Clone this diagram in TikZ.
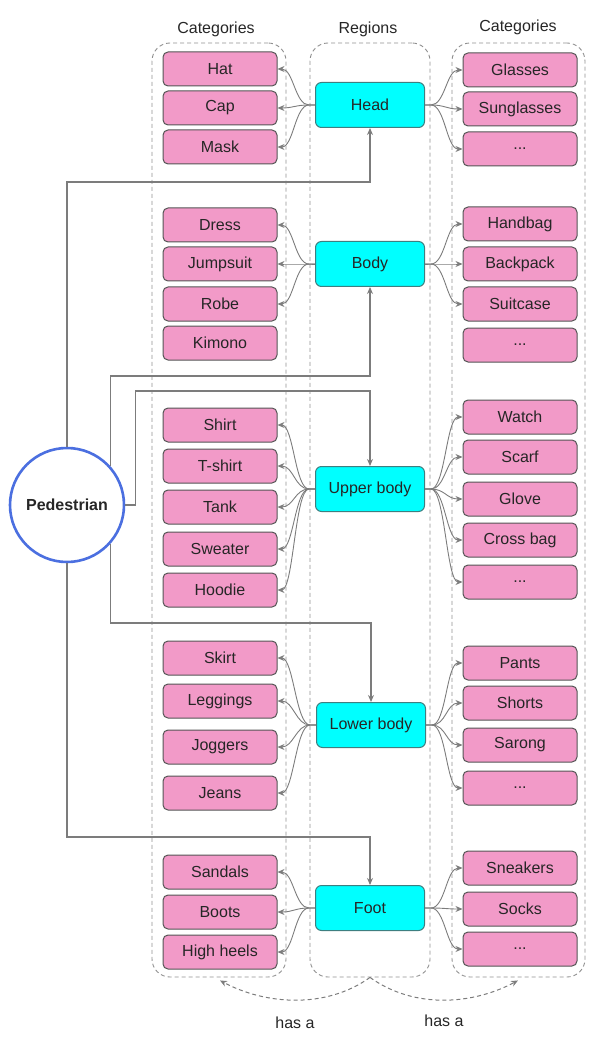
\documentclass[tikz,border=0pt]{standalone}
\usepackage{fontspec}
\setmainfont{Liberation Sans}
\usetikzlibrary{arrows.meta}
\definecolor{pinkfill}{HTML}{F29AC8}
\definecolor{regfill}{HTML}{00FFFF}
\definecolor{boxline}{HTML}{555555}
\definecolor{regline}{HTML}{3E7F80}
\definecolor{wire}{HTML}{7C7C7C}
\definecolor{ink}{HTML}{262626}
\definecolor{pedblue}{HTML}{4B6FE0}
\begin{document}
\begin{tikzpicture}[x=1pt,y=-1pt,
  every node/.style={font=\fontsize{16}{19}\selectfont, text=ink},
  catbox/.style={draw=boxline, fill=pinkfill, line width=1pt, rounded corners=5pt,
    minimum width=114pt, minimum height=34pt, inner sep=0pt},
  regbox/.style={draw=regline, fill=regfill, line width=1pt, rounded corners=6pt,
    minimum width=109pt, minimum height=45pt, inner sep=0pt},
  group/.style={draw=wire!85, dashed, dash pattern=on 4pt off 3pt, line width=0.9pt,
    rounded corners=18pt, inner sep=0pt},
  tip/.style={-{Stealth[length=7pt,width=6pt]}},
  link/.style={draw=wire, line width=0.9pt, tip},
  feed/.style={draw=wire, line width=1.1pt, tip},
  hasa/.style={draw=wire, dashed, dash pattern=on 4pt off 3pt, line width=1pt, tip},
]
\useasboundingbox (0,0) rectangle (589,1040);

% column frames and headers
\node[group, minimum width=134pt, minimum height=934pt] (leftcol) at (219,510) {};
\node[group, minimum width=120pt, minimum height=934pt] (midcol) at (370,510) {};
\node[group, minimum width=133pt, minimum height=934pt] (rightcol) at (518.5,510) {};
\node (hl) at (216,29) {Categories};
\node (hm) at (368,29) {Regions};
\node (hr) at (518,27) {Categories};

% regions
\node[regbox] (head)  at (370,105) {Head};
\node[regbox] (body)  at (370,264) {Body};
\node[regbox] (upper) at (370,489) {Upper body};
\node[regbox] (lower) at (371,725) {Lower body};
\node[regbox] (foot)  at (370,908) {Foot};

% left categories
\node[catbox] (hat)      at (220,69)  {Hat};
\node[catbox] (cap)      at (220,108) {Cap};
\node[catbox] (mask)     at (220,147) {Mask};
\node[catbox] (dress)    at (220,225) {Dress};
\node[catbox] (jumpsuit) at (220,264) {Jumpsuit};
\node[catbox] (robe)     at (220,304) {Robe};
\node[catbox] (kimono)   at (220,343) {Kimono};
\node[catbox] (shirt)    at (220,425) {Shirt};
\node[catbox] (tshirt)   at (220,466) {T-shirt};
\node[catbox] (tank)     at (220,507) {Tank};
\node[catbox] (sweater)  at (220,549) {Sweater};
\node[catbox] (hoodie)   at (220,590) {Hoodie};
\node[catbox] (skirt)    at (220,658) {Skirt};
\node[catbox] (leggings) at (220,701) {Leggings};
\node[catbox] (joggers)  at (220,747) {Joggers};
\node[catbox] (jeans)    at (220,793) {Jeans};
\node[catbox] (sandals)  at (220,872) {Sandals};
\node[catbox] (boots)    at (220,912) {Boots};
\node[catbox] (heels)    at (220,952) {High heels};

% right categories
\node[catbox] (glasses)  at (520,70)  {Glasses};
\node[catbox] (sung)     at (520,109) {Sunglasses};
\node[catbox] (headmore) at (520,149) {...};
\node[catbox] (handbag)  at (520,224) {Handbag};
\node[catbox] (backpack) at (520,264) {Backpack};
\node[catbox] (suitcase) at (520,304) {Suitcase};
\node[catbox] (bodymore) at (520,345) {...};
\node[catbox] (watch)    at (520,417) {Watch};
\node[catbox] (scarf)    at (520,457) {Scarf};
\node[catbox] (glove)    at (520,499) {Glove};
\node[catbox] (crossbag) at (520,540) {Cross bag};
\node[catbox] (uppmore)  at (520,582) {...};
\node[catbox] (pants)    at (520,663) {Pants};
\node[catbox] (shorts)   at (520,703) {Shorts};
\node[catbox] (sarong)   at (520,745) {Sarong};
\node[catbox] (lowmore)  at (520,788) {...};
\node[catbox] (sneakers) at (520,868) {Sneakers};
\node[catbox] (socks)    at (520,909) {Socks};
\node[catbox] (footmore) at (520,949) {...};

% pedestrian
\node[circle, draw=pedblue, line width=2.6pt, fill=white, minimum size=114pt,
  inner sep=0pt, font=\fontsize{16}{19}\selectfont\bfseries] (ped) at (67,505) {Pedestrian};

% region -> category links
\foreach \r/\list in {head/{hat,cap,mask}, body/{dress,jumpsuit,robe},
    upper/{shirt,tshirt,tank,sweater,hoodie}, lower/{skirt,leggings,joggers,jeans},
    foot/{sandals,boots,heels}} {
  \foreach \c in \list {
    \draw[link] (\r.west) -- ++(-6,0) .. controls +(-14,0) and +(16,0) .. (\c.east);
  }
}
\foreach \r/\list in {head/{glasses,sung,headmore}, body/{handbag,backpack,suitcase},
    upper/{watch,scarf,glove,crossbag,uppmore}, lower/{pants,shorts,sarong,lowmore},
    foot/{sneakers,socks,footmore}} {
  \foreach \c in \list {
    \draw[link] (\r.east) -- ++(6,0) .. controls +(14,0) and +(-16,0) .. (\c.west);
  }
}

% pedestrian -> regions
\coordinate (yhead)  at (200,182);
\coordinate (ybody)  at (200,376);
\coordinate (yupper) at (200,391);
\coordinate (ylower) at (200,623);
\coordinate (yfoot)  at (200,837);
\draw[feed] (ped.north) |- (yhead) -| (head.south);
\draw[feed] (ped.42) |- (ybody) -| (body.south);
\draw[feed] (ped.east) -- ++(10,0) |- (yupper) -| (upper.north);
\draw[feed] (ped.-42) |- (ylower) -| (lower.north);
\draw[feed] (ped.south) |- (yfoot) -| (foot.north);

% "has a" relations
\draw[hasa] (midcol.south) .. controls +(-45,32) and +(45,24) .. ([xshift=1pt,yshift=-3pt]leftcol.south);
\draw[hasa] (midcol.south) .. controls +(45,32) and +(-45,24) .. ([xshift=-0.5pt,yshift=-3pt]rightcol.south);
\node (hasl) at (295,1023) {has a};
\node (hasr) at (444,1021) {has a};
\end{tikzpicture}
\end{document}
